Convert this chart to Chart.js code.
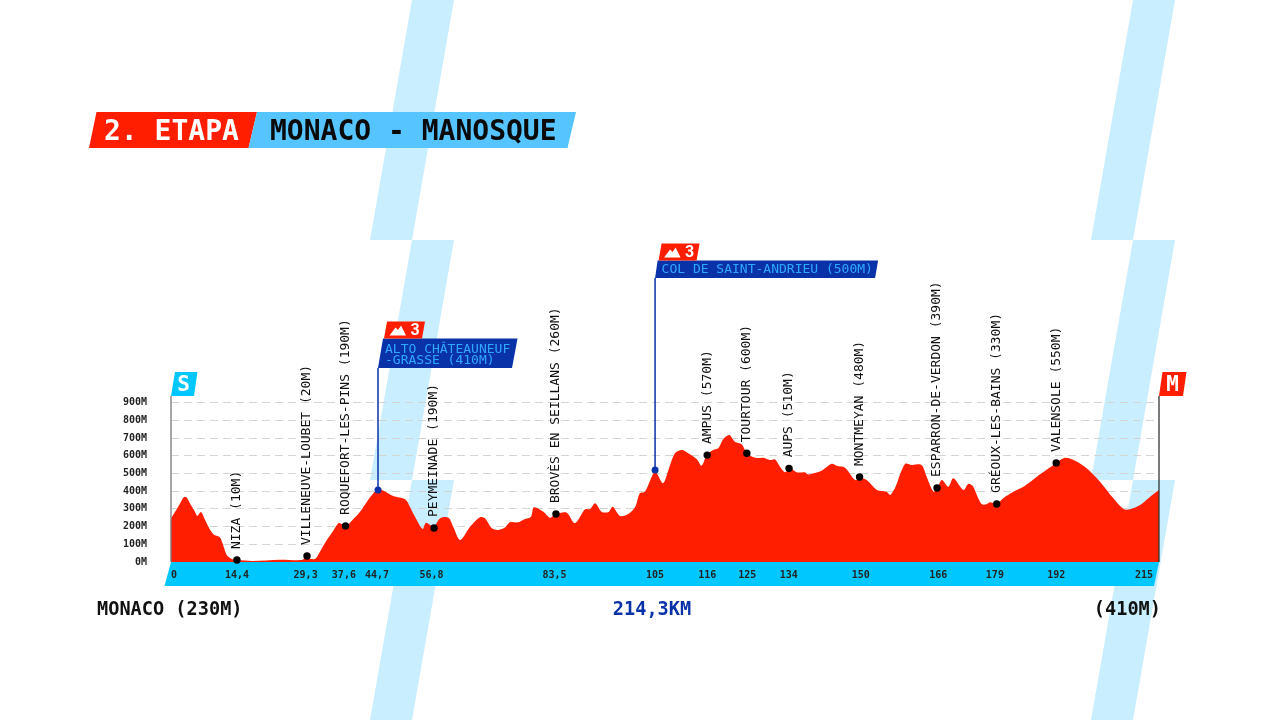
<!DOCTYPE html>
<html><head><meta charset="utf-8">
<style>html,body{margin:0;padding:0;background:#fff}canvas{display:block}</style>
<script src="https://cdn.jsdelivr.net/npm/chart.js@4"></script>
</head><body>
<canvas id="c" width="1280" height="720"></canvas>
<script>
const profileKm=[0,0.9,2.0,2.7,3.4,4.1,5.2,5.7,6.5,7.4,8.5,9.4,10.6,11.3,12.1,13.2,14.3,17.8,23.6,28.4,29.1,31.2,32.3,33.8,35.2,36.3,37.0,38.1,39.5,41.0,42.5,43.9,45.0,46.1,48.2,50.8,51.8,53.3,54.6,55.3,57.0,58.4,60.2,61.2,62.7,64.9,67.0,68.1,69.6,71.0,72.5,73.5,75.3,76.8,78.1,78.7,80.8,82.2,83.5,85.8,87.6,89.8,90.9,92.0,93.4,94.9,95.8,97.4,99.2,100.7,101.7,102.8,105.0,106.7,107.9,109.3,110.8,112.2,114.0,115.1,116.2,117.6,118.7,119.8,121.1,122.3,123.8,124.9,126.7,128.5,129.9,131.0,132.1,133.2,134.3,135.7,137.5,138.2,141.1,143.3,144.4,146.2,148.4,149.5,150.9,153.1,155.2,156.0,157.0,159.2,160.7,162.8,163.9,165.4,166.2,167.2,168.6,169.7,171.9,172.9,173.9,175.1,175.9,176.9,177.7,179.1,180.5,182.7,184.9,187.8,190.7,192.1,193.9,196.1,198.6,201.5,204.4,206.6,208.0,210.2,212.4,214.3];
const profileM=[247,284,332,365,365,332,284,260,282,237,181,153,140,96,40,17,11,6,13,11,23,17,58,124,177,219,215,205,241,284,341,388,412,403,373,354,312,237,186,222,200,247,250,200,124,200,253,247,190,181,196,224,224,243,256,309,284,250,271,279,219,298,299,332,284,282,312,260,271,312,388,397,510,445,520,614,633,614,582,544,604,633,642,695,718,680,665,614,589,589,576,580,538,507,529,507,507,495,516,555,544,533,463,476,463,407,397,379,416,554,548,548,482,397,416,463,425,473,407,441,429,360,326,326,337,326,360,397,425,482,535,561,589,572,529,454,360,299,298,322,369,407];
const yTicks=[0,100,200,300,400,500,600,700,800,900];
const tickKm=[0,14.3,29.2,37.5,44.7,56.5,83.2,105,116.3,125,134,149.6,166.4,178.7,192,213];
const tickLabels=['0','14,4','29,3','37,6','44,7','56,8','83,5','105','116','125','134','150','166','179','192','215'];
const stopNames=['NIZA (10M)','VILLENEUVE-LOUBET (20M)','ROQUEFORT-LES-PINS (190M)','PEYMEINADE (190M)','BROVÈS EN SEILLANS (260M)','AMPUS (570M)','TOURTOUR (600M)','AUPS (510M)','MONTMEYAN (480M)','ESPARRON-DE-VERDON (390M)','GRÉOUX-LES-BAINS (330M)','VALENSOLE (550M)'];
const stopKm=[14.3,29.5,37.85,57.05,83.5,116.3,124.9,134.05,149.35,166.15,179.1,192];
const stopM=[11,34,204,192,271,604,614,529,480,418,328,560];
const climbKm=[44.9,105];
const climbM=[407,520];
const climbPoleTop=[1096,1604];
const flagPoleTop=938;
const totalKm=214.3;
const startLabel='MONACO (230M)',distLabel='214,3KM',endLabel='(410M)';

const MONO='"DejaVu Sans Mono","Liberation Mono",monospace';
const RED='#ff1e00',CYAN='#00c8ff',NAVY='#0a32a8',SKY='#56c4ff',STRIPE='#c8eeff',CLIMBTXT='#2ea8ff';

function poly(ctx,pts,color){ctx.fillStyle=color;ctx.beginPath();pts.forEach((p,i)=>i?ctx.lineTo(p[0],p[1]):ctx.moveTo(p[0],p[1]));ctx.closePath();ctx.fill();}
function txt(ctx,s,x,y,font,color,align){ctx.font=font;ctx.fillStyle=color;ctx.textAlign=align||'left';ctx.textBaseline='middle';ctx.fillText(s,x,y);}

const decor={id:'decor',
 beforeDraw(chart){
  const ctx=chart.ctx;ctx.save();
  ctx.fillStyle='#fff';ctx.fillRect(0,0,1280,720);
  [412,1133].forEach(x0=>{[0,240,480].forEach(y0=>{
    poly(ctx,[[x0,y0],[x0+42,y0],[x0,y0+240],[x0-42,y0+240]],STRIPE);
  });});
  const a=chart.chartArea;
  poly(ctx,[[a.left,a.bottom],[a.right,a.bottom],[a.right-5,a.bottom+24],[a.left-6.5,a.bottom+24]],CYAN);
  ctx.restore();
 },
 afterDatasetsDraw(chart){
  const ctx=chart.ctx,x=chart.scales.x,y=chart.scales.y;ctx.save();
  // header
  poly(ctx,[[96.5,112],[257,112],[248.5,148],[89,148]],RED);
  poly(ctx,[[257,112],[576,112],[567.5,148],[248.5,148]],SKY);
  txt(ctx,'2. ETAPA',104,132.5,'bold 28px '+MONO,'#fff');
  txt(ctx,'MONACO - MANOSQUE',270,132.5,'bold 28px '+MONO,'#0a0a0a');
  // stop labels
  stopNames.forEach((n,i)=>{
    ctx.save();ctx.translate(x.getPixelForValue(stopKm[i]),y.getPixelForValue(stopM[i])-11);
    ctx.rotate(-Math.PI/2);
    txt(ctx,n,0,0,'13px '+MONO,'#111');
    ctx.restore();
  });
  // start / finish flags
  const fy=y.getPixelForValue(flagPoleTop),sx=x.getPixelForValue(0),ex=x.getPixelForValue(totalKm);
  poly(ctx,[[sx+4,fy-24],[sx+26.5,fy-24],[sx+23,fy],[sx,fy]],CYAN);
  txt(ctx,'S',sx+12.5,fy-10.5,'bold 21px '+MONO,'#fff','center');
  poly(ctx,[[ex+3.5,fy-24],[ex+27.5,fy-24],[ex+24,fy],[ex,fy]],RED);
  txt(ctx,'M',ex+13.5,fy-10.5,'bold 21px '+MONO,'#fff','center');
  // climb boxes
  const climbs=[{lines:['ALTO CHÂTEAUNEUF','-GRASSE (410M)'],w:134.5,h:29.5,tx:7,ly:[11,22.5]},{lines:['COL DE SAINT-ANDRIEU (500M)'],w:220.5,h:17.5,tx:6.5,ly:[9.5]}];
  climbs.forEach((c,i)=>{
    const px=x.getPixelForValue(climbKm[i]),b=y.getPixelForValue(climbPoleTop[i]),t=b-c.h;
    const sl=c.h>20?5:2.5;
    poly(ctx,[[px+sl,t],[px+sl+c.w,t],[px+c.w-0.5,b],[px,b]],NAVY);
    c.lines.forEach((l,j)=>txt(ctx,l,px+c.tx,t+c.ly[j],'13px '+MONO,CLIMBTXT));
    const fx=px+sl+1,ft=t-17;
    poly(ctx,[[fx+3,ft],[fx+41,ft],[fx+38,t],[fx,t]],RED);
    poly(ctx,[[fx+5.5,t-3],[fx+11.5,t-11],[fx+14,t-8.5],[fx+17,t-13],[fx+22,t-3]],'#fff');
    txt(ctx,'3',fx+31,t-8,'bold 16px Roboto,sans-serif','#fff','center');
  });
  // bottom texts
  txt(ctx,startLabel,97,610,'bold 18.6px '+MONO,'#111');
  txt(ctx,distLabel,652,610,'bold 18.6px '+MONO,NAVY,'center');
  txt(ctx,endLabel,1161,610,'bold 18.6px '+MONO,'#111','right');
  ctx.restore();
 }
};

new Chart(document.getElementById('c'),{
 type:'scatter',
 data:{datasets:[
  {type:'scatter',label:'Etapes',data:stopKm.map((k,i)=>({x:k,y:stopM[i]})),pointRadius:3.7,pointBackgroundColor:'#000',pointBorderWidth:0,clip:false,order:1},
  {type:'scatter',label:'Puertos',data:climbKm.map((k,i)=>({x:k,y:climbM[i]})),pointRadius:3.5,pointBackgroundColor:NAVY,pointBorderWidth:0,clip:false,order:1},
  {type:'line',label:'Alto',data:[{x:climbKm[0],y:climbM[0]},{x:climbKm[0],y:climbPoleTop[0]}],borderColor:NAVY,borderWidth:1.5,pointRadius:0,clip:false,order:2},
  {type:'line',label:'Col',data:[{x:climbKm[1],y:climbM[1]},{x:climbKm[1],y:climbPoleTop[1]}],borderColor:NAVY,borderWidth:1.5,pointRadius:0,clip:false,order:2},
  {type:'line',label:'Salida',data:[{x:0,y:0},{x:0,y:flagPoleTop}],borderColor:'#777',borderWidth:1.3,pointRadius:0,clip:false,order:2},
  {type:'line',label:'Meta',data:[{x:totalKm,y:0},{x:totalKm,y:flagPoleTop}],borderColor:'#333',borderWidth:1.3,pointRadius:0,clip:false,order:2},
  {type:'line',label:'Perfil',data:profileKm.map((k,i)=>({x:k,y:profileM[i]})),borderWidth:0,borderColor:RED,backgroundColor:RED,fill:'origin',pointRadius:0,tension:0.3,order:3}
 ]},
 options:{
  responsive:false,animation:false,devicePixelRatio:1,
  layout:{padding:{left:0,right:121,top:208,bottom:134}},
  plugins:{legend:{display:false},tooltip:{enabled:false},title:{display:false}},
  scales:{
   x:{type:'linear',min:0,max:totalKm,
     afterBuildTicks:s=>{s.ticks=tickKm.map(v=>({value:v}));},
     afterFit:s=>{s.height=24;},
     grid:{display:false,drawTicks:false},border:{display:false},
     ticks:{autoSkip:false,maxRotation:0,minRotation:0,align:'inner',padding:7,color:'#222',font:{family:MONO,size:10,weight:'bold'},callback:(v,i)=>tickLabels[i]}},
   y:{type:'linear',min:0,max:2000,
     afterBuildTicks:s=>{s.ticks=yTicks.map(v=>({value:v}));},
     afterFit:s=>{s.width=171;},
     grid:{color:c=>c.tick.value===0?'rgba(0,0,0,0)':'#d4d4d4',drawTicks:false,lineWidth:1},border:{display:false,dash:[8,5]},
     ticks:{padding:24,color:'#222',font:{family:MONO,size:10,weight:'bold'},callback:v=>v+'M'}}
  }
 },
 plugins:[decor]
});
</script>
</body></html>
